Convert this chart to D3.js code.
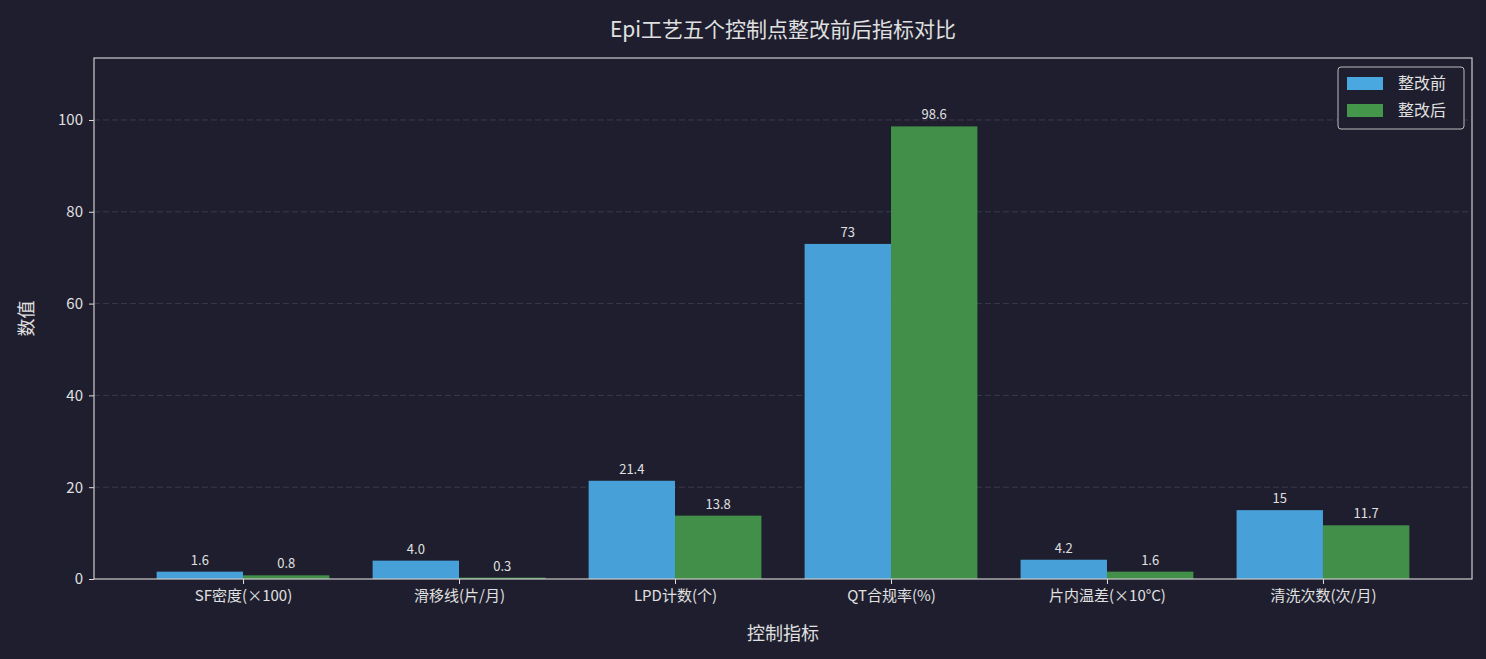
<!DOCTYPE html>
<html><head><meta charset="utf-8">
<script src="https://cdn.jsdelivr.net/npm/d3@7"></script>
<style>body{margin:0;background:#1e1e2e;}svg{display:block;font-family:"Noto Sans CJK SC","DejaVu Sans Mono",sans-serif;}</style>
</head><body><svg id="c" width="1486" height="659"></svg>
<script>
const categories=["SF密度(×100)","滑移线(片/月)","LPD计数(个)","QT合规率(%)","片内温差(×10°C)","清洗次数(次/月)"];
const before=[1.6,4.0,21.4,73,4.2,15];
const after=[0.8,0.3,13.8,98.6,1.6,11.7];
const beforeLabels=["1.6","4.0","21.4","73","4.2","15"];
const afterLabels=["0.8","0.3","13.8","98.6","1.6","11.7"];
const yTicks=[0,20,40,60,80,100];
const seriesNames=["整改前","整改后"];
const colors=["#4aa8e0","#43964a"];

const svg=d3.select("#c");
const L=94,R=1472,T=58,B=579;
const x=d3.scaleLinear().domain([-0.69,5.69]).range([L,R]);
const y=d3.scaleLinear().domain([0,113.5]).range([B,T]);
const bw=x(0.4)-x(0);
const txt="#e0e0e0";

svg.append("g").selectAll("line").data(yTicks.slice(1)).join("line")
 .attr("x1",L).attr("x2",R).attr("y1",d=>y(d)).attr("y2",d=>y(d))
 .attr("stroke","#3a3a4e").attr("stroke-width",1).attr("stroke-dasharray","6,3");

[before,after].forEach((arr,s)=>{
 const labs=s?afterLabels:beforeLabels;
 const g=svg.append("g");
 g.selectAll("rect").data(arr).join("rect")
  .attr("x",(d,i)=>x(i+(s?0:-0.4))).attr("width",bw)
  .attr("y",d=>y(d)).attr("height",d=>B-y(d)).attr("fill",colors[s]).attr("opacity",0.95);
 g.selectAll("text").data(arr).join("text")
  .attr("x",(d,i)=>x(i+(s?0.2:-0.2))).attr("y",d=>y(d)-7)
  .attr("text-anchor","middle").attr("fill",txt).attr("font-size",13).text((d,i)=>labs[i]);
});

const ya=svg.append("g").attr("transform",`translate(${L},0)`).call(d3.axisLeft(y).tickValues(yTicks).tickSize(5).tickPadding(6));
const xa=svg.append("g").attr("transform",`translate(0,${B})`).call(d3.axisBottom(x).tickValues(d3.range(6)).tickFormat(i=>categories[i]).tickSize(5).tickPadding(6));
[ya,xa].forEach(a=>{a.select(".domain").remove();a.selectAll("line").attr("stroke",txt);a.selectAll("text").attr("fill",txt).attr("font-size",15).attr("font-family","Noto Sans CJK SC");});
svg.append("rect").attr("x",L).attr("y",T).attr("width",R-L).attr("height",B-T).attr("fill","none").attr("stroke","#cccccc").attr("stroke-width",1.2);

svg.append("text").attr("x",(L+R)/2).attr("y",37).attr("text-anchor","middle").attr("fill",txt).attr("font-size",21).text("Epi工艺五个控制点整改前后指标对比");
svg.append("text").attr("x",(L+R)/2).attr("y",640).attr("text-anchor","middle").attr("fill",txt).attr("font-size",18).text("控制指标");
svg.append("text").attr("transform",`translate(33,${(T+B)/2}) rotate(-90)`).attr("text-anchor","middle").attr("fill",txt).attr("font-size",18).text("数值");

const lg=svg.append("g").attr("transform","translate(1338,67)");
lg.append("rect").attr("width",126).attr("height",62).attr("rx",3).attr("fill","#1e1e2e").attr("stroke","#bbbbbb");
seriesNames.forEach((n,i)=>{
 lg.append("rect").attr("x",9).attr("y",10+i*27).attr("width",36).attr("height",13).attr("fill",colors[i]);
 lg.append("text").attr("x",60).attr("y",22+i*27).attr("fill",txt).attr("font-size",16).text(n);
});
</script></body></html>
